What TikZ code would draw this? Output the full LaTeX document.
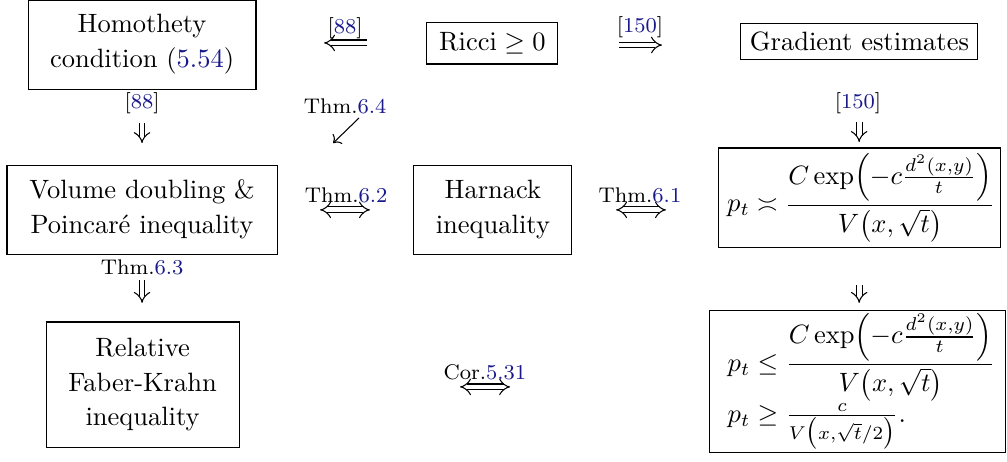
\documentclass[tikz,border=0pt]{standalone}
\usepackage{amsmath,amssymb}
\usetikzlibrary{arrows.meta}
\definecolor{refblue}{RGB}{25,25,140}
\newcommand{\lnk}[1]{\textcolor{refblue}{#1}}

\begin{document}
\begin{tikzpicture}[x=1pt,y=1pt]
\tikzset{box/.style={draw,thin,align=center,inner sep=0pt,font={\fontsize{10}{13.2}\selectfont}},
  lbl/.style={font=\footnotesize,inner sep=0pt},
  imp/.style={double,double distance=1.8pt,thin,-{Implies}},
  impboth/.style={double,double distance=1.8pt,thin,{Implies}-{Implies}}}
\useasboundingbox (0,0) rectangle (380,-174);
\node[box,minimum width=86pt,minimum height=33.6pt] (homo) at (53.6,-16.8) {Homothety\\condition (\lnk{5.54})};
\node[box,minimum width=49.4pt,minimum height=15.5pt] (ricci) at (185.8,-16.4) {$\mathrm{Ricci}\geq 0$};
\node[box,minimum width=89.4pt,minimum height=13.6pt] (grad) at (324.3,-15.8) {Gradient estimates};
\node[box,minimum width=101.9pt,minimum height=33.6pt] (vol) at (53.6,-79.1) {Volume doubling \&\\Poincar\'e inequality};
\node[box,minimum width=59.6pt,minimum height=33.6pt] (harn) at (186.0,-79.1) {Harnack\\inequality};
\node[box,minimum width=72.8pt,minimum height=47.2pt] (rfk) at (53.8,-145.1) {Relative\\Faber-Krahn\\inequality};
\node[box,align=left,inner xsep=3.4pt,text width=99.6pt,minimum height=37.7pt] (hk) at (324.2,-74.7)
  {\mbox{$\displaystyle p_t\asymp\frac{C\exp\Bigl(-c\frac{d^2(x,y)}{t}\Bigr)}{V\bigl(x,\sqrt{t}\bigr)}$}};
\node[box,align=left,inner xsep=7pt,text width=98pt,minimum height=53.6pt] (hkb) at (323.6,-143.8)
  {\mbox{$\displaystyle p_t\leq\frac{C\exp\Bigl(-c\frac{d^2(x,y)}{t}\Bigr)}{V\bigl(x,\sqrt{t}\bigr)}$}\\
   \mbox{$\displaystyle p_t\geq\tfrac{c}{V\bigl(x,\sqrt{t}/2\bigr)}.$}};
% top row
\coordinate (a1) at (138.5,-16.2); \coordinate (a2) at (122.3,-16.2);
\draw[imp] (a1) -- (a2);
\node[lbl] (c88a) at (130.2,-10.6) {[\lnk{88}]};
\coordinate (b1) at (233.6,-17.0); \coordinate (b2) at (249.8,-17.0);
\draw[imp] (b1) -- (b2);
\node[lbl] (c150a) at (241.5,-10.2) {[\lnk{150}]};
% downwards
\coordinate (d1) at (53.6,-46.4); \coordinate (d2) at (53.6,-54.0);
\draw[imp] (d1) -- (d2);
\node[lbl] (c88b) at (53.6,-38.9) {[\lnk{88}]};
\node[lbl] (t64) at (130.2,-40.0) {Thm.\lnk{6.4}};
\coordinate (s1) at (135.5,-44.5); \coordinate (s2) at (125.7,-54.0);
\draw[thin,-{To}] (s1) -- (s2);
\coordinate (e1) at (324.2,-46.0); \coordinate (e2) at (324.2,-53.6);
\draw[imp] (e1) -- (e2);
\node[lbl] (c150b) at (323.8,-38.9) {[\lnk{150}]};
% middle row
\coordinate (f1) at (120.8,-79.2); \coordinate (f2) at (139.6,-79.2);
\draw[impboth] (f1) -- (f2);
\node[lbl] (t62) at (130.6,-73.6) {Thm.\lnk{6.2}};
\coordinate (g1) at (232.5,-79.2); \coordinate (g2) at (251.3,-79.2);
\draw[impboth] (g1) -- (g2);
\node[lbl] (t61) at (241.5,-73.6) {Thm.\lnk{6.1}};
\coordinate (h1) at (53.6,-105.7); \coordinate (h2) at (53.6,-114.3);
\draw[imp] (h1) -- (h2);
\node[lbl] (t63) at (53.6,-100.8) {Thm.\lnk{6.3}};
\coordinate (k1) at (324.2,-107.5); \coordinate (k2) at (324.2,-114.3);
\draw[imp] (k1) -- (k2);
% bottom row
\coordinate (m1) at (173.6,-146.0); \coordinate (m2) at (192.5,-146.0);
\draw[impboth] (m1) -- (m2);
\node[lbl] (c531) at (183.0,-140.4) {Cor.\lnk{5.31}};
\end{tikzpicture}
\end{document}
